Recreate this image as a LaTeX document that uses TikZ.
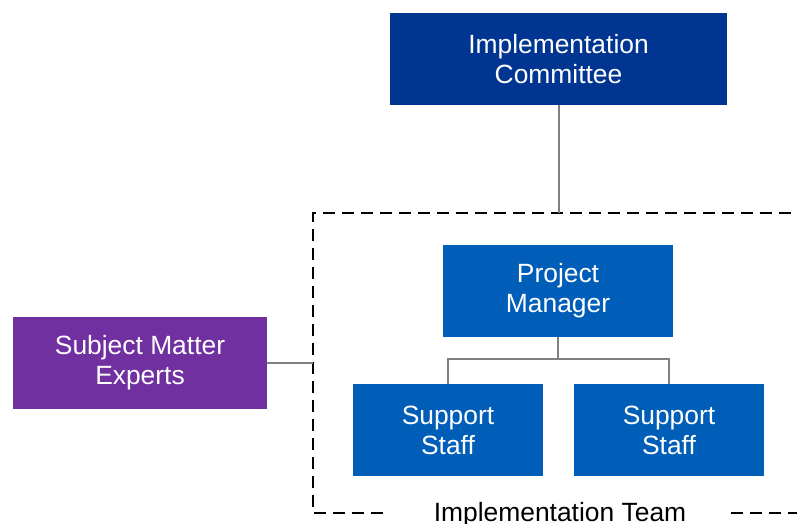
\documentclass[tikz,border=0pt]{standalone}
\usepackage{fontspec}
\setmainfont{Liberation Sans}
\definecolor{navyblue}{RGB}{0,53,145}
\definecolor{midblue}{RGB}{0,94,184}
\definecolor{sepurple}{RGB}{112,48,160}
\definecolor{linkgray}{RGB}{128,128,128}
\tikzset{
  unitbox/.style={draw=none, text=white, align=center, inner sep=0pt,
    font=\fontsize{26.4}{30}\selectfont},
  link/.style={draw=linkgray, line width=2pt},
  teamline/.style={line width=2.2pt, dash pattern=on 12pt off 7pt}
}
\begin{document}
\begin{tikzpicture}[x=1pt,y=-1pt]
                \useasboundingbox (0,0) rectangle (797,524);
                {
                % Drawing box Implementation Committee
                \node [unitbox, fill=navyblue, minimum width=337pt, minimum height=92pt] (committee) at (558.5,59) {Implementation\\Committee};%

                % Drawing box Project Manager
                \node [unitbox, fill=midblue, minimum width=230pt, minimum height=92pt] (manager) at (558,291) {Project\\Manager};%

                % Drawing box Support Staff (left)
                \node [unitbox, fill=midblue, minimum width=190pt, minimum height=92pt] (staffa) at (448,430) {Support\\Staff};%

                % Drawing box Support Staff (right)
                \node [unitbox, fill=midblue, minimum width=190pt, minimum height=92pt] (staffb) at (669,430) {Support\\Staff};%

                % Drawing box Subject Matter Experts
                \node [unitbox, fill=sepurple, minimum width=254pt, minimum height=92pt] (experts) at (140,363) {Subject Matter\\Experts};%

                % Marking team frame points
                \coordinate (teamtop) at (558.5,213);%
                \coordinate (teamleft) at (313,363);%
                \coordinate (branch) at (558,359);%

                % Drawing team frame
                \draw [teamline] (810,213) -- (313,213) -- (313,513) -- (387,513);%
                \draw [teamline] (731,513) -- (810,513);%

                % Marking label Implementation Team
                \node [font=\fontsize{26.4}{30}\selectfont, inner sep=0pt] (team) at (560,515) {Implementation Team};%

                % Drawing link committee to team
                \draw [link] (committee.south) -- (teamtop);%

                % Drawing link experts to team
                \draw [link] (experts.east) -- (teamleft);%

                % Drawing links manager to staff
                \draw [link] (manager.south) -- (branch);%
                \draw [link] (branch) -| (staffa.north);%
                \draw [link] (branch) -| (staffb.north);%
                }
            \end{tikzpicture}
\end{document}
